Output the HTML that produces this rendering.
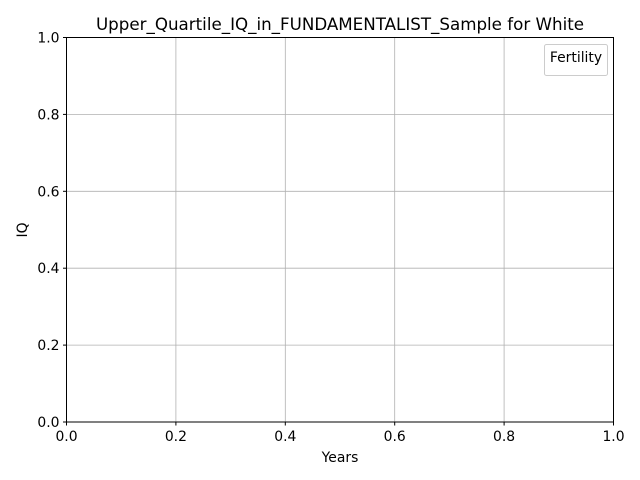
<!DOCTYPE html>
<html><head><meta charset="utf-8"><style>
body{margin:0;background:#fff;}
svg{display:block;font-family:"DejaVu Sans","Liberation Sans",sans-serif;}
</style></head><body>
<svg id="chart" width="640" height="480" viewBox="0 0 640 480">
<rect width="640" height="480" fill="#fff"/>
<text x="340" y="30" text-anchor="middle" font-size="16.7">Upper_Quartile_IQ_in_FUNDAMENTALIST_Sample for White</text>
<g id="grid"></g>
<g id="series"></g>
<rect x="66.5" y="37.5" width="547" height="384.5" fill="none" stroke="#000" stroke-width="1"/>
<g id="ticks"></g>
<text x="340" y="462" text-anchor="middle" font-size="13.9">Years</text>
<text x="27" y="230" text-anchor="middle" font-size="13.9" transform="rotate(-90 27 230)">IQ</text>
<g>
<rect x="544.5" y="44.5" width="63" height="31" rx="2" fill="#fff" stroke="#ccc"/>
<text x="576" y="62" text-anchor="middle" font-size="13.9">Fertility</text>
</g>
</svg>
<script>
const xTicks=[0.0,0.2,0.4,0.6,0.8,1.0];
const yTicks=[0.0,0.2,0.4,0.6,0.8,1.0];
const seriesYears=[];
const seriesIQ=[];
const X0=66.5,X1=613.5,Y0=422,Y1=37.5;
const sx=v=>X0+(v-0)/(1-0)*(X1-X0);
const sy=v=>Y0-(v-0)/(1-0)*(Y0-Y1);
const ns="http://www.w3.org/2000/svg";
const grid=document.getElementById('grid'),ticks=document.getElementById('ticks');
function mk(t,a,p){const e=document.createElementNS(ns,t);for(const k in a)e.setAttribute(k,a[k]);p.appendChild(e);return e;}
xTicks.forEach(v=>{
 const x=sx(v);
 const g=mk('line',{x1:x,x2:x,y1:Y1,y2:Y0,stroke:'#b0b0b0','stroke-width':0.8},grid);
 
 
 const t=mk('line',{x1:x,x2:x,y1:Y0,y2:Y0+3.5,stroke:'#000'},ticks);
 
 
 const l=mk('text',{x:x,y:Y0+19,'text-anchor':'middle','font-size':13.9},ticks);
 l.textContent=v.toFixed(1);
 
 
});
yTicks.forEach(v=>{
 const y=sy(v);
 const g=mk('line',{x1:X0,x2:X1,y1:y,y2:y,stroke:'#b0b0b0','stroke-width':0.8},grid);
 
 
 const t=mk('line',{x1:X0-3.5,x2:X0,y1:y,y2:y,stroke:'#000'},ticks);
 
 
 const l=mk('text',{x:X0-7,y:y+5,'text-anchor':'end','font-size':13.9},ticks);
 l.textContent=v.toFixed(1);
 
 
});
if(seriesYears.length){
 const p=mk('polyline',{points:seriesYears.map((v,i)=>sx(v)+','+sy(seriesIQ[i])).join(' '),fill:'none',stroke:'#1f77b4'},document.getElementById('series'));
 
 
}
</script>
</body></html>
